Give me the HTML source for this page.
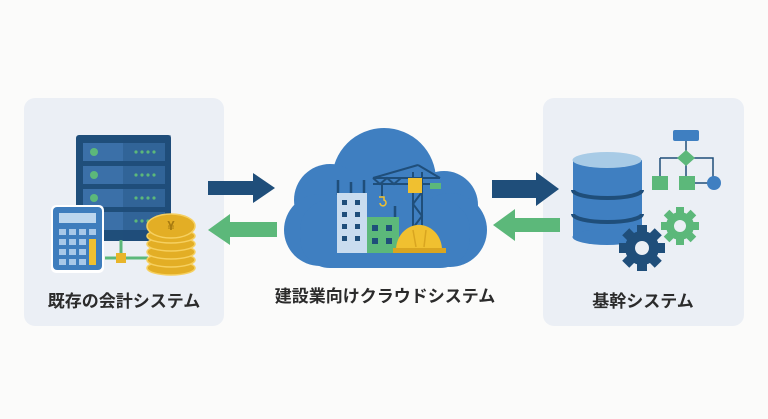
<!DOCTYPE html>
<html><head><meta charset="utf-8"><style>
html,body{margin:0;padding:0;background:#fbfbfa;}
svg{display:block}
text{font-family:"Liberation Sans","Noto Sans CJK JP",sans-serif;font-weight:bold;fill:#2b2b2b;}
</style></head><body>
<svg width="768" height="419" viewBox="0 0 768 419" xmlns="http://www.w3.org/2000/svg">
<rect width="768" height="419" fill="#fbfbfa"/>
<!-- panels -->
<rect x="24" y="98" width="200" height="228" rx="11" fill="#ebeff5"/>
<rect x="543" y="98" width="201" height="228" rx="11" fill="#ebeff5"/>

<!-- server -->
<rect x="76" y="135" width="95" height="106" rx="3" fill="#1f4e7a"/>
<g fill="#3b70a8">
<rect x="83" y="143" width="82" height="18"/><rect x="83" y="166" width="82" height="18"/>
<rect x="83" y="189" width="82" height="18"/><rect x="83" y="212" width="82" height="18"/>
</g>
<rect x="123" y="135" width="48" height="106" fill="#1f4e7a" opacity="0.35"/>
<g fill="#5cb87a">
<circle cx="94" cy="152" r="4"/><circle cx="94" cy="175" r="4"/><circle cx="94" cy="198" r="4"/>
<g id="d"><circle cx="136" cy="152" r="1.6"/><circle cx="142" cy="152" r="1.6"/><circle cx="148" cy="152" r="1.6"/><circle cx="154" cy="152" r="1.6"/></g>
<use href="#d" y="23"/><use href="#d" y="46"/><use href="#d" y="69"/>
</g>
<!-- connectors -->
<path d="M121 240 V258 M105 258 H148" stroke="#5cb87a" stroke-width="3" fill="none"/>
<rect x="116" y="253" width="10" height="10" fill="#e8b52a"/>
<!-- calculator -->
<rect x="51" y="205" width="53" height="68" rx="5" fill="#fff"/>
<rect x="53" y="207" width="49" height="63" rx="4" fill="#3e7dbd"/>
<rect x="59" y="213" width="37" height="10" fill="#bcd6ee"/>
<g fill="#a8c8e8">
<rect x="59" y="229" width="7" height="6"/><rect x="69" y="229" width="7" height="6"/><rect x="79" y="229" width="7" height="6"/><rect x="89" y="229" width="7" height="6"/>
<rect x="59" y="239" width="7" height="6"/><rect x="69" y="239" width="7" height="6"/><rect x="79" y="239" width="7" height="6"/>
<rect x="59" y="249" width="7" height="6"/><rect x="69" y="249" width="7" height="6"/><rect x="79" y="249" width="7" height="6"/>
<rect x="59" y="259" width="7" height="6"/><rect x="69" y="259" width="7" height="6"/><rect x="79" y="259" width="7" height="6"/>
</g>
<rect x="89" y="239" width="7" height="26" fill="#f0c030"/>
<!-- coins -->
<g fill="#e3ae25" stroke="#f6d060" stroke-width="1.5">
<ellipse cx="171" cy="268" rx="24" ry="7"/>
<ellipse cx="171" cy="260" rx="24" ry="7"/>
<ellipse cx="171" cy="252" rx="24" ry="7"/>
<ellipse cx="171" cy="244" rx="24" ry="7"/>
<ellipse cx="171" cy="236" rx="24" ry="7"/>
<ellipse cx="171" cy="226" rx="24" ry="12"/>
</g>
<text x="171" y="230" text-anchor="middle" font-size="13" style="fill:#a67a10">¥</text>
<text x="124" y="307" text-anchor="middle" font-size="17">既存の会計システム</text>

<!-- arrows left -->
<path d="M208 181 H253 V173 L275 188 L253 203 V195 H208 Z" fill="#1f4e7a"/>
<path d="M277 222 H230 V214 L208 230 L230 245 V237 H277 Z" fill="#5cb87a"/>
<!-- arrows right -->
<path d="M492 180 H536 V172 L559 189 L536 206 V198 H492 Z" fill="#1f4e7a"/>
<path d="M560 218 H515 V209 L493 225 L515 241 V232 H560 Z" fill="#5cb87a"/>

<!-- cloud -->
<g fill="#3f7fc1">
<circle cx="384" cy="180" r="52"/>
<circle cx="330" cy="200" r="36"/>
<circle cx="444" cy="205" r="34"/>
<circle cx="320" cy="230" r="36"/>
<circle cx="450" cy="230" r="37"/>
<rect x="300" y="200" width="170" height="68" rx="30"/>
</g>
<!-- buildings -->
<g stroke="#1f4e7a" stroke-width="2.5"><path d="M338 195 V180 M351 195 V182 M364 195 V180 M395 219 V206"/></g>
<rect x="337" y="193" width="30" height="60" fill="#c9dcef"/>
<g fill="#1f4e7a">
<rect x="342" y="200" width="5" height="5"/><rect x="355" y="200" width="5" height="5"/>
<rect x="342" y="212" width="5" height="5"/><rect x="355" y="212" width="5" height="5"/>
<rect x="342" y="224" width="5" height="5"/><rect x="355" y="224" width="5" height="5"/>
<rect x="342" y="236" width="5" height="5"/><rect x="355" y="236" width="5" height="5"/>
</g>
<rect x="367" y="217" width="32" height="36" fill="#5cb87a"/>
<g fill="#1f4e7a"><rect x="372" y="225" width="6" height="6"/><rect x="386" y="225" width="6" height="6"/><rect x="372" y="238" width="6" height="6"/><rect x="386" y="238" width="6" height="6"/></g>
<!-- crane -->
<g stroke="#1f4e7a" stroke-width="2" fill="none">
<path d="M413 172 V232 M422 172 V232 M413 180 L422 192 L413 204 L422 216 L413 228"/>
<path d="M373 178 H440 M373 184 H440 M373 178 L380 184 L387 178 L394 184 L401 178 M418 165 L373 178 M418 165 L440 178"/>
<path d="M382 184 V196"/>
</g>
<path d="M379 197 h5 v3 a3 3 0 1 1 -4 3" stroke="#f0c030" stroke-width="1.5" fill="none"/>
<rect x="408" y="178" width="14" height="15" fill="#f0c030"/>
<rect x="430" y="183" width="11" height="6" fill="#5cb87a"/>
<!-- hard hat -->
<path d="M396 250 A22 24 0 0 1 442 250 Z" fill="#f0c030"/>
<rect x="393" y="248" width="53" height="5" fill="#d9a520"/>
<path d="M413 230 L416 247 M426 230 L424 247" stroke="#d9a520" stroke-width="1.5"/>
<text x="385" y="302" text-anchor="middle" font-size="17">建設業向けクラウドシステム</text>

<!-- database -->
<rect x="573" y="160" width="69" height="77" fill="#3f7fc1"/>
<ellipse cx="607" cy="237" rx="34.5" ry="8" fill="#3f7fc1"/>
<path d="M573 190 A34.5 8 0 0 0 642 190 M573 214 A34.5 8 0 0 0 642 214" stroke="#1f4e7a" stroke-width="4" fill="none"/>
<ellipse cx="607" cy="160" rx="34.5" ry="8" fill="#a8cbe6"/>
<!-- flowchart -->
<g stroke="#1f4e7a" stroke-width="1.5" fill="none">
<path d="M686 140 V158 M660 158 H713 V183 M660 158 V178 M686 158 V178 M695 183 H713"/>
</g>
<rect x="673" y="130" width="26" height="11" rx="2" fill="#3f7fc1"/>
<path d="M686 150 L695 158 L686 166 L677 158 Z" fill="#5cb87a"/>
<rect x="652" y="176" width="16" height="14" fill="#5cb87a"/>
<rect x="679" y="176" width="16" height="14" fill="#5cb87a"/>
<circle cx="714" cy="183" r="7" fill="#3f7fc1"/>
<!-- gears -->
<g fill="#5cb87a" transform="translate(680,226)">
<circle r="14"/>
<g id="tg"><rect x="-4" y="-19" width="8" height="8"/></g>
<use href="#tg" transform="rotate(45)"/><use href="#tg" transform="rotate(90)"/><use href="#tg" transform="rotate(135)"/>
<use href="#tg" transform="rotate(180)"/><use href="#tg" transform="rotate(225)"/><use href="#tg" transform="rotate(270)"/><use href="#tg" transform="rotate(315)"/>
<circle r="6" fill="#ebeff5"/>
</g>
<g fill="#1f4e7a" transform="translate(642,248)">
<circle r="17"/>
<g id="tb"><rect x="-5" y="-23" width="10" height="9"/></g>
<use href="#tb" transform="rotate(45)"/><use href="#tb" transform="rotate(90)"/><use href="#tb" transform="rotate(135)"/>
<use href="#tb" transform="rotate(180)"/><use href="#tb" transform="rotate(225)"/><use href="#tb" transform="rotate(270)"/><use href="#tb" transform="rotate(315)"/>
<circle r="7" fill="#ebeff5"/>
</g>
<text x="643" y="307" text-anchor="middle" font-size="17">基幹システム</text>
</svg>
</body></html>
